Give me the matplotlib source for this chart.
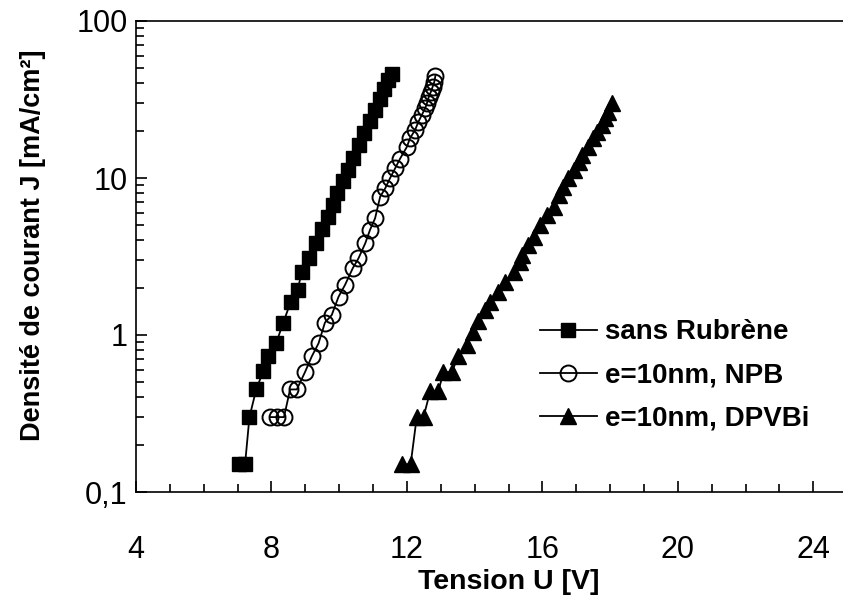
import numpy as np
import matplotlib
matplotlib.use("Agg")
import matplotlib.pyplot as plt
from matplotlib.ticker import FixedLocator, FixedFormatter, LogLocator, NullFormatter

plt.rcParams['font.family'] = ['Liberation Sans', 'DejaVu Sans']

# sans Rubrene
u_sans = [7.04, 7.22, 7.35, 7.55, 7.76, 7.91, 8.14, 8.35, 8.57, 8.77, 8.90, 9.11,
          9.31, 9.48, 9.68, 9.83, 9.93, 10.10, 10.25, 10.42, 10.58, 10.74, 10.90,
          11.05, 11.20, 11.33, 11.45, 11.56]
j_sans = [0.15, 0.15, 0.30, 0.45, 0.59, 0.73, 0.89, 1.2, 1.63, 1.94, 2.53, 3.09,
          3.84, 4.71, 5.62, 6.73, 7.98, 9.6, 11.3, 13.5, 16.2, 19.3, 23.0,
          27.0, 32.0, 37.0, 42.0, 46.0]

# e=10nm, NPB
u_npb = [7.96, 8.17, 8.37, 8.55, 8.75, 8.99, 9.19, 9.39, 9.58, 9.78, 9.98, 10.17,
         10.40, 10.57, 10.77, 10.91, 11.06, 11.21, 11.36, 11.50, 11.65, 11.80,
         12.00, 12.09, 12.24, 12.34, 12.44, 12.54, 12.59, 12.65, 12.71, 12.76,
         12.81, 12.84]
j_npb = [0.30, 0.30, 0.30, 0.45, 0.45, 0.58, 0.73, 0.885, 1.2, 1.34, 1.75, 2.08,
         2.66, 3.08, 3.84, 4.67, 5.54, 7.6, 8.6, 9.96, 11.5, 13.3,
         15.8, 17.9, 20.2, 22.8, 25.2, 27.8, 29.9, 33.0, 35.5, 38.1,
         41.0, 44.6]

# e=10nm, DPVBi
u_dpv = [11.85, 12.11, 12.29, 12.49, 12.69, 12.93, 13.08, 13.32, 13.52, 13.77,
         13.96, 14.11, 14.31, 14.46, 14.70, 14.90, 15.15, 15.34, 15.39, 15.59,
         15.74, 15.93, 16.13, 16.33, 16.48, 16.62, 16.77, 16.92, 17.07, 17.17,
         17.36, 17.51, 17.61, 17.76, 17.85, 17.95, 18.05]
j_dpv = [0.15, 0.15, 0.30, 0.30, 0.44, 0.44, 0.58, 0.58, 0.73, 0.86,
         1.05, 1.22, 1.44, 1.63, 1.89, 2.18, 2.53, 2.93, 3.24, 3.74,
         4.23, 5.02, 5.81, 6.56, 7.80, 8.81, 9.96, 11.3, 12.7, 14.0,
         15.8, 17.9, 19.7, 21.7, 24.0, 26.4, 29.9]

labels = ["sans Rubrène", "e=10nm, NPB", "e=10nm, DPVBi"]
xticks = [4, 8, 12, 16, 20, 24]
yticks = [0.1, 1, 10, 100]
ytick_labels = ["0,1", "1", "10", "100"]


def main():
    fig = plt.figure(figsize=(8.43, 6.11), dpi=100)
    # x axis runs past the right edge of the picture (to 26 V), as in the original
    ax = fig.add_axes([136 / 843, 1 - 492 / 611, (881 - 136) / 843, (492 - 21) / 611])

    ax.plot(u_sans, j_sans, '-s', color='black', lw=1.3, ms=10,
            mfc='black', mec='black', label=labels[0])
    ax.plot(u_npb, j_npb, '-o', color='black', lw=1.3, ms=11.5,
            mfc='none', mec='black', mew=1.4, label=labels[1])
    ax.plot(u_dpv, j_dpv, '-^', color='black', lw=1.3, ms=11,
            mfc='black', mec='black', label=labels[2])

    ax.set_yscale('log')
    ax.set_xlim(4, 26)
    ax.set_ylim(0.1, 100)

    ax.xaxis.set_major_locator(FixedLocator(xticks))
    ax.xaxis.set_minor_locator(FixedLocator(np.arange(5, 26, 1)))
    ax.yaxis.set_major_locator(FixedLocator(yticks))
    ax.yaxis.set_major_formatter(FixedFormatter(ytick_labels))
    ax.yaxis.set_minor_locator(LogLocator(base=10, subs=np.arange(2, 10)))
    ax.yaxis.set_minor_formatter(NullFormatter())

    ax.tick_params(which='both', direction='in', width=1.2, labelsize=22)
    ax.tick_params(which='major', length=8)
    ax.tick_params(which='minor', length=6)
    ax.tick_params(axis='x', which='both', pad=31)
    ax.tick_params(axis='y', which='both', pad=6)

    ax.spines['right'].set_visible(False)
    for s in ['left', 'bottom', 'top']:
        ax.spines[s].set_linewidth(1.2)

    ax.set_xlabel('Tension U [V]', fontsize=20.5, fontweight='bold', labelpad=3)
    ax.set_ylabel('Densité de courant J [mA/cm²]', fontsize=19.5,
                  fontweight='bold', labelpad=22, y=0.523)

    ax.legend(loc='center left', bbox_to_anchor=(0.542, 0.247), frameon=False,
              prop={'weight': 'bold', 'size': 20}, borderpad=0,
              handlelength=2.05, handletextpad=0.3, labelspacing=0.62,
              borderaxespad=0)

    fig.savefig('out.png', dpi=100)


if __name__ == "__main__":
    main()
